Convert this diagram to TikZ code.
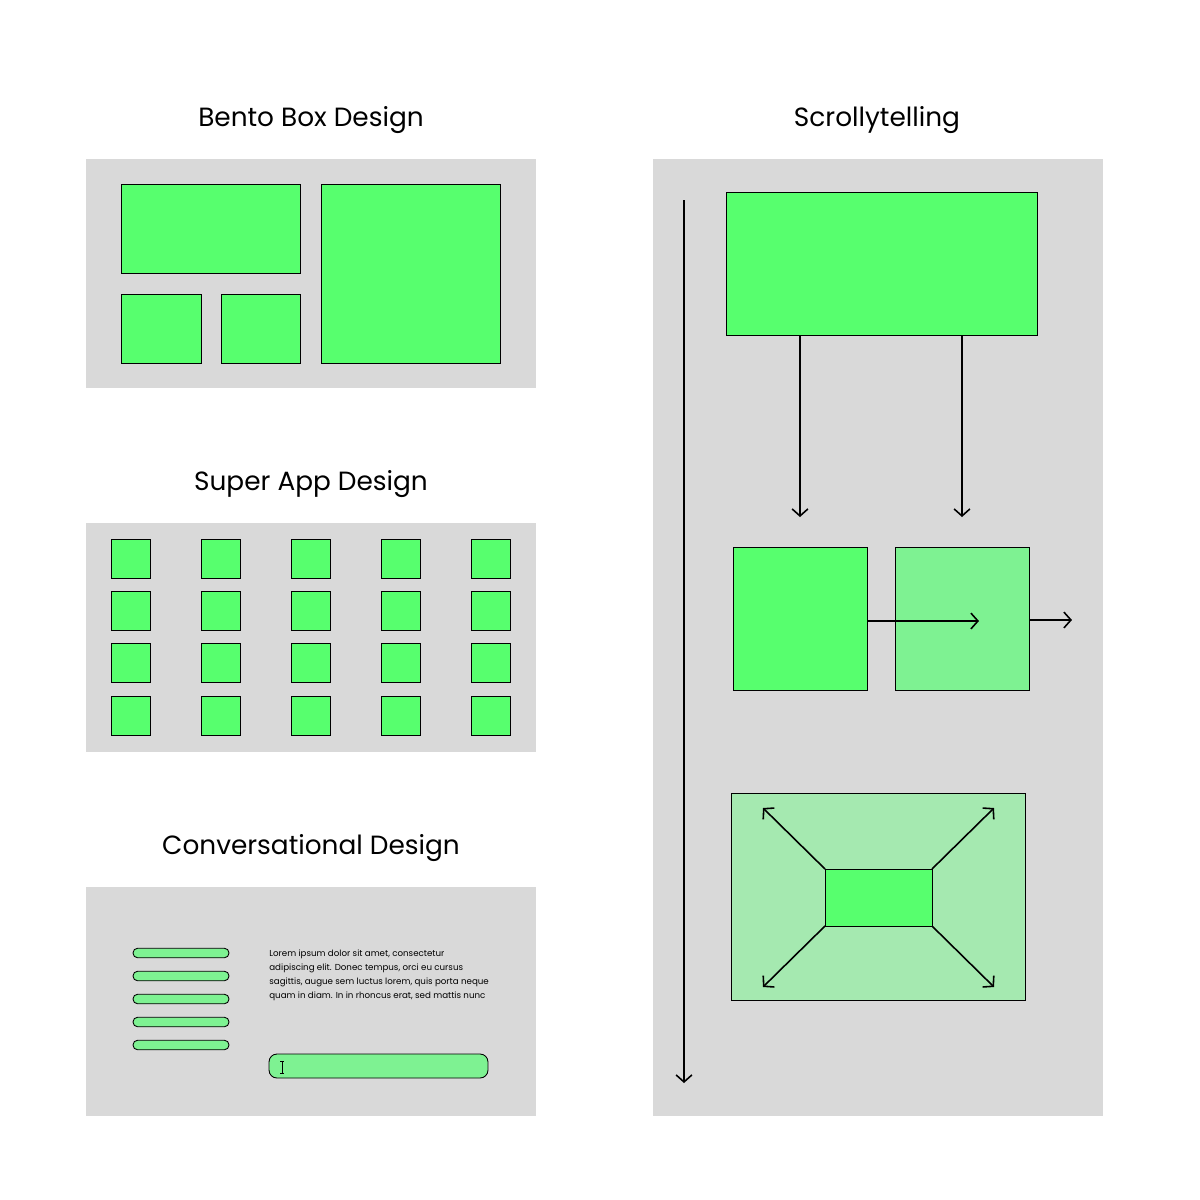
\documentclass[tikz,border=0pt]{standalone}
\usepackage{fontspec}
\setmainfont{Poppins}
\usetikzlibrary{arrows.meta, positioning}
\definecolor{PanelGrey}{HTML}{D9D9D9}
\definecolor{BrightGreen}{HTML}{57FF6E}
\definecolor{SoftGreen}{HTML}{7EF292}
\definecolor{PaleGreen}{HTML}{A5E9B0}

\begin{document}
\begin{tikzpicture}[x=0.02cm, y=-0.02cm,
    panel/.style 2 args={fill=PanelGrey, inner sep=0, outer sep=0, minimum width=#1*0.02cm, minimum height=#2*0.02cm},
    title/.style={anchor=base, font=\fontsize{15}{17}\selectfont},
    blk/.style 2 args={draw, line width=0.5pt, fill=BrightGreen, inner sep=0, outer sep=0, minimum width=#1*0.02cm, minimum height=#2*0.02cm},
    pill/.style={draw, line width=0.5pt, fill=SoftGreen, rounded corners=2.6pt, inner sep=0, minimum width=1.92cm, minimum height=0.19cm},
    flow/.style={-{Straight Barb[length=4pt,width=9pt]}, line width=0.9pt}]

    \fill[white] (0,0) rectangle (1200,1200);
    \useasboundingbox (0,0) rectangle (1200,1200);

    % Panels
    \node [panel={450}{229}] (bento) at (311,273.5) {};
    \node [panel={450}{229}] (super) at (311,637.5) {};
    \node [panel={450}{229}] (conv) at (311,1001.5) {};
    \node [panel={450}{957}] (scroll) at (878,637.5) {};

    % Titles
    \node [title] (t-bento) at (311,126) {Bento Box Design};
    \node [title] (t-super) at (311,490) {Super App Design};
    \node [title] (t-conv) at (311,854) {Conversational Design};
    \node [title] (t-scroll) at (877,126) {Scrollytelling};

    % Bento box
    \node [blk={179}{89}] (wide) at (210.5,228.5) {};
    \node [blk={179}{179}] (tall) at (410.5,273.5) {};
    \node [blk={80}{69}] (small1) at (161,328.5) {};
    \node [blk={79}{69}] (small2) at (260.5,328.5) {};

    % Super app grid
    \foreach \c in {0,...,4}
      \foreach \r in {0,...,3}
        \node [blk={39}{39}] (sq-\c-\r) at (130.5+90*\c, 558.5+52.4*\r) {};

    % Conversational
    \foreach \i/\y in {1/953,2/976,3/999,4/1022,5/1045}
      \node [pill] (pill-\i) at (181,\y) {};
    \node [anchor=north west, inner sep=0, align=left, font=\fontsize{4.95}{7.9}\selectfont] (lorem) at (269,950)
      {Lorem ipsum dolor sit amet, consectetur\\
       adipiscing elit. Donec tempus, orci eu cursus\\
       sagittis, augue sem luctus lorem, quis porta neque\\
       quam in diam. In in rhoncus erat, sed mattis nunc};
    \node [pill, rounded corners=4.5pt, minimum width=4.38cm, minimum height=0.48cm] (input) at (378.5,1066) {};
    \draw [line width=0.5pt] (282,1061) -- (282,1073)
      (280,1061) -- (284,1061) (280,1073) -- (284,1073);

    % Scrollytelling
    \coordinate (scroll-start) at (684,200);
    \coordinate (scroll-end) at (684,1083);
    \draw [flow] (scroll-start) -- (scroll-end);

    \node [blk={311}{143}] (hero) at (881.5,263.5) {};
    \node [blk={134}{143}] (left) at (800,618.5) {};
    \node [blk={134}{143}, fill=SoftGreen, right=0.56cm of left] (right) {};
    \draw [flow] (hero.south -| left.north) -- ([yshift=0.6cm]left.north);
    \draw [flow] (hero.south -| right.north) -- ([yshift=0.6cm]right.north);
    \draw [flow] ([yshift=-0.05cm]left.east) -- ([xshift=0.34cm,yshift=-0.05cm]right.center);
    \draw [flow] ([yshift=-0.03cm]right.east) -- ([xshift=0.86cm,yshift=-0.03cm]right.east);

    \node [blk={294}{207}, fill=PaleGreen] (zoom) at (878,896.5) {};
    \node [blk={107}{57}] (core) at (878.5,897.5) {};
    \draw [flow] (core.north west) -- ([xshift=0.64cm,yshift=-0.3cm]zoom.north west);
    \draw [flow] (core.north east) -- ([xshift=-0.62cm,yshift=-0.3cm]zoom.north east);
    \draw [flow] (core.south west) -- ([xshift=0.64cm,yshift=0.26cm]zoom.south west);
    \draw [flow] (core.south east) -- ([xshift=-0.62cm,yshift=0.26cm]zoom.south east);
  \end{tikzpicture}
\end{document}
